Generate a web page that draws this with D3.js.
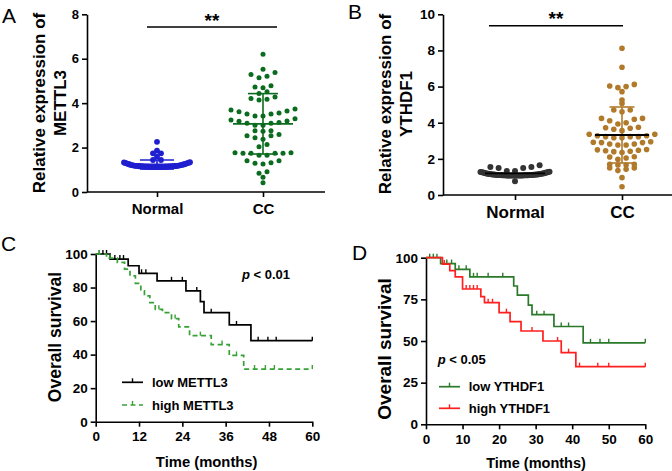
<!DOCTYPE html>
<html><head><meta charset="utf-8">
<script src="https://cdn.jsdelivr.net/npm/d3@7"></script>
<style>
body{margin:0;background:#fff}
svg{display:block}
text{font-family:"Liberation Sans",Arial,sans-serif;font-weight:bold;fill:#000}
</style></head><body>
<svg id="c" width="672" height="471"></svg>
<script>
// ---------------- data ----------------
const categories = ["Normal", "CC"];

const A_normal = [2.26, 1.86, 1.74, 1.74, 1.59, 1.44, 1.44,
  1.13,1.13,1.13,1.13,1.13,1.13,1.13,1.13,1.13,1.13,1.13,1.13,1.13,
  1.14,1.14,1.14,1.14,1.14,1.14,1.14, 1.15,1.15,1.15,1.15,1.15, 1.16,1.16,1.16, 1.17,1.17,1.17,
  1.18,1.18,1.18, 1.19,1.19, 1.20,1.20, 1.21,1.21, 1.23,1.23, 1.24,1.25, 1.26,1.27, 1.28,1.29,
  1.30,1.31, 1.32,1.33, 1.34];
const A_cc = [6.20, 5.53, 5.38, 5.29, 5.21, 5.14, 4.78, 4.73, 4.69, 4.51, 4.43, 4.28, 4.21, 4.18, 4.14,
  3.74, 3.69, 3.65, 3.61, 3.56, 3.51, 3.51, 3.42, 3.42, 3.30, 3.24, 3.20, 3.19, 3.13, 3.09, 3.09, 3.01, 3.01,
  2.76, 2.76, 2.74, 2.59, 2.53, 2.53, 2.44, 2.37, 2.14, 2.04, 1.77, 1.77, 1.75, 1.74, 1.74, 1.74, 1.66, 1.66,
  1.41, 1.41, 1.32, 1.29, 1.26, 0.91, 0.84, 0.66, 0.42];
const A_mean = [1.24, 3.07];
const A_sd = [0.20, 1.36];
const A_ticks = [0, 2, 4, 6, 8];

const B_normal = [1.64, 1.55, 1.55, 1.49, 1.49, 1.33, 1.33, 0.76,
  1.08,1.08,1.08,1.08,1.08,1.08,1.08,1.08,1.08,1.08,1.08,1.08,1.08,
  1.09,1.09,1.09,1.09,1.09,1.09,1.09, 1.10,1.10,1.10,1.10, 1.11,1.11,1.11, 1.12,1.12,1.12,
  1.13,1.13, 1.14,1.14, 1.15,1.15, 1.16,1.16, 1.17,1.17, 1.18, 1.19, 1.20, 1.21, 1.22, 1.23,
  1.24, 1.25, 1.26, 1.27, 1.27, 1.28];
const B_cc = [8.12, 7.07, 6.12, 6.00, 5.72, 5.94, 6.03, 5.26, 5.07, 4.70, 4.61, 4.70, 4.24, 4.19, 4.11, 4.24,
  4.00, 3.93, 3.75, 3.64, 3.69, 3.56, 3.72, 3.36, 3.28, 3.23, 3.17, 3.23, 3.17, 3.23, 3.28, 3.36,
  2.90, 2.82, 2.77, 2.95, 2.92, 2.77, 2.82, 2.90, 2.52, 2.48, 2.40, 2.45, 2.50, 2.42, 2.35,
  2.12, 2.05, 1.97, 2.10, 1.66, 1.70, 1.70, 1.66, 1.50, 1.42, 1.50, 1.35, 0.96, 0.46];
const B_mean = [1.20, 3.32];
const B_sd = [0.12, 1.55];
const B_ticks = [0, 2, 4, 6, 8, 10];

const C_low_time = [0, 4, 9, 12, 17, 25, 29, 30, 37, 43, 60];
const C_low_surv = [100, 97, 93, 88.5, 84, 78, 71.6, 65, 57.7, 48.3, 48.3];
const C_low_cens = [1, 2, 3, 5.3, 6.7, 7.7, 12.7, 13.9, 21, 24, 28, 32, 39, 45, 47.7, 50, 60];
const C_high_time = [0, 3, 6, 8, 9.5, 11, 12.5, 13.5, 15, 16.5, 18.5, 21, 23, 26, 32, 37, 41, 60];
const C_high_surv = [100, 97.5, 95, 91, 87, 82.5, 78, 75, 71, 67, 65, 61.5, 56.5, 51.3, 46, 39.5, 31.4, 31.4];
const C_high_cens = [1, 4, 17.5, 22, 29, 35, 39, 44, 47, 49.5, 60];
const C_xticks = [0, 12, 24, 36, 48, 60];
const C_yticks = [0, 20, 40, 60, 80, 100];

const D_low_time = [0, 4, 8, 12, 24, 25, 28, 29, 35, 43, 60];
const D_low_surv = [100, 96.5, 93, 88.5, 83, 77.5, 71.5, 65.8, 58.7, 48.9, 48.9];
const D_low_cens = [1, 2, 3, 5.7, 7, 9, 11, 13, 14, 17, 21, 30.3, 32.3, 37, 39, 45, 47.6, 50, 60];
const D_high_time = [0, 4.5, 6.5, 8, 10, 15, 16, 20, 23, 26, 32, 37, 41, 60];
const D_high_surv = [100, 96.2, 92.2, 88.5, 81.2, 76.6, 73, 67, 61.6, 56, 50, 43, 34.6, 34.6];
const D_high_cens = [5, 11, 12, 13, 14, 17, 18.2, 22, 29, 36, 39, 42, 47, 50, 60];
const D_xticks = [0, 10, 20, 30, 40, 50, 60];
const D_yticks = [0, 25, 50, 75, 100];

// ---------------- helpers ----------------
const svg = d3.select("#c");
svg.append("rect").attr("width", 672).attr("height", 471).attr("fill", "#fff");

function swarm(values, y, opt) {
  const idx = values.map((v, i) => i).sort((a, b) => values[b] - values[a]);
  const rows = []; let cur = null, lastPy = null;
  idx.forEach(i => {
    const py = y(values[i]);
    if (!cur || py - lastPy > opt.gap || py - cur.start > opt.span) { cur = {items: [], start: py}; rows.push(cur); }
    cur.items.push(i); lastPy = py;
  });
  const off = new Array(values.length);
  rows.forEach(r => {
    const items = r.items.slice().sort((a, b) => values[a] - values[b]);
    const n = items.length;
    const step = n > 1 ? Math.min(opt.step, opt.maxW / (n - 1)) : 0;
    items.forEach((i, k) => {
      let slot;
      if (n % 2 === 1) slot = k === 0 ? 0 : (k % 2 === 1 ? -Math.ceil(k / 2) : Math.ceil(k / 2));
      else { const m = Math.floor(k / 2) + 0.5; slot = k % 2 === 0 ? -m : m; }
      off[i] = slot * step;
    });
  });
  return off;
}

function styleAxis(g, fs) {
  g.selectAll("path,line").attr("stroke", "#000").attr("stroke-width", 1.6);
  g.selectAll("text").style("font-size", fs + "px").style("font-weight", "bold")
    .style("font-family", '"Liberation Sans",Arial,sans-serif').attr("fill", "#000");
}

function scatterPanel(cfg) {
  const g = svg.append("g");
  const y = d3.scaleLinear().domain(cfg.ydom).range(cfg.yrange);
  const x = d3.scalePoint().domain(categories).range(cfg.xpos);
  const ya = g.append("g").attr("transform", `translate(${cfg.x0},0)`)
    .call(d3.axisLeft(y).tickValues(cfg.ticks).tickSize(5).tickSizeOuter(0).tickPadding(3));
  styleAxis(ya, cfg.tickFs);
  const xa = g.append("g").attr("transform", `translate(0,${cfg.yrange[0]})`)
    .call(d3.axisBottom(x).tickSize(5).tickPadding(6));
  xa.select(".domain").remove();
  styleAxis(xa, cfg.catFs);
  g.append("line").attr("x1", cfg.x0).attr("x2", cfg.xend).attr("y1", cfg.yrange[0]).attr("y2", cfg.yrange[0])
    .attr("stroke", "#000").attr("stroke-width", 1.6);
  [cfg.normal, cfg.cc].forEach((vals, ci) => {
    const off = swarm(vals, y, cfg.layout[ci]);
    const cx = x(categories[ci]);
    g.append("g").selectAll("circle").data(vals).join("circle")
      .attr("cx", (d, i) => cx + off[i]).attr("cy", d => y(d)).attr("r", cfg.r[ci])
      .attr("fill", cfg.colors[ci]);
    const m = cfg.mean[ci], s = cfg.sd[ci];
    const eb = g.append("g").attr("stroke-width", 1.6);
    eb.append("line").attr("x1", cx).attr("x2", cx).attr("y1", y(m - s)).attr("y2", y(m + s)).attr("stroke", cfg.colors[ci]);
    [m - s, m + s].forEach(v => eb.append("line").attr("x1", cx - cfg.capW[ci]).attr("x2", cx + cfg.capW[ci])
      .attr("y1", y(v)).attr("y2", y(v)).attr("stroke", cfg.colors[ci]));
    eb.append("line").attr("x1", cx - cfg.meanW[ci]).attr("x2", cx + cfg.meanW[ci])
      .attr("y1", y(m)).attr("y2", y(m)).attr("stroke", cfg.meanColor[ci]).attr("stroke-width", 1.8);
  });
  g.append("line").attr("x1", cfg.sig[0]).attr("x2", cfg.sig[1]).attr("y1", cfg.sig[2]).attr("y2", cfg.sig[2])
    .attr("stroke", "#000").attr("stroke-width", 1.6);
  g.append("text").attr("x", (cfg.sig[0] + cfg.sig[1]) / 2).attr("y", cfg.sig[3]).attr("text-anchor", "middle")
    .style("font-size", "19px").text("**");
  const t = g.append("text").attr("transform", `translate(${cfg.titleX},${cfg.titleY}) rotate(-90)`)
    .attr("text-anchor", "middle").style("font-size", cfg.titleFs + "px");
  t.append("tspan").attr("x", 0).attr("dy", 0).text("Relative expression of");
  t.append("tspan").attr("x", 0).attr("dy", cfg.titleLH).text(cfg.gene);
  g.append("text").attr("x", cfg.letter[0]).attr("y", cfg.letter[1]).style("font-weight", "normal")
    .style("font-size", "21px").text(cfg.letter[2]);
}

scatterPanel({
  ydom: [0, 8], yrange: [192, 14.3], xpos: [157, 263], x0: 87, xend: 325, ticks: A_ticks,
  tickFs: 13, catFs: 15, normal: A_normal, cc: A_cc, mean: A_mean, sd: A_sd, r: [2.9, 2.5],
  colors: ["#1f1fd0", "#0b6b1e"], meanColor: ["#1f1fd0", "#0b6b1e"], capW: [17, 15], meanW: [30, 30],
  layout: [{gap: 2.0, span: 8, step: 8, maxW: 66}, {gap: 2.5, span: 8, step: 8, maxW: 70}],
  sig: [147, 277, 27, 27], titleX: 45, titleY: 103, titleFs: 17, titleLH: 21, gene: "METTL3", letter: [2, 23, "A"]
});
scatterPanel({
  ydom: [0, 10], yrange: [195, 14.3], xpos: [515, 622], x0: 443, xend: 672, ticks: B_ticks,
  tickFs: 13.5, catFs: 17, normal: B_normal, cc: B_cc, mean: B_mean, sd: B_sd, r: [3.0, 2.8],
  colors: ["#333333", "#b07a2a"], meanColor: ["#000000", "#000000"], capW: [0, 12.5], meanW: [30, 27],
  layout: [{gap: 3.5, span: 6.2, step: 8.2, maxW: 69}, {gap: 2.5, span: 8, step: 8.2, maxW: 72}],
  sig: [489, 623, 25.7, 25], titleX: 391, titleY: 104, titleFs: 17, titleLH: 21, gene: "YTHDF1", letter: [348, 19, "B"]
});

function kmPanel(cfg) {
  const g = svg.append("g");
  const x = d3.scaleLinear().domain([0, 60]).range(cfg.xr);
  const y = d3.scaleLinear().domain([0, 100]).range(cfg.yr);
  const ya = g.append("g").attr("transform", `translate(${cfg.xr[0]},0)`)
    .call(d3.axisLeft(y).tickValues(cfg.yticks).tickSize(5).tickSizeOuter(0).tickPadding(3));
  styleAxis(ya, cfg.tickFs);
  const xa = g.append("g").attr("transform", `translate(0,${cfg.yr[0]})`)
    .call(d3.axisBottom(x).tickValues(cfg.xticks).tickSize(5).tickSizeOuter(0).tickPadding(5));
  styleAxis(xa, cfg.tickFs);
  const line = d3.line().x(d => x(d[0])).y(d => y(d[1])).curve(d3.curveStepAfter);
  cfg.series.forEach(s => {
    const pts = s.time.map((t, i) => [t, s.surv[i]]);
    g.append("path").attr("d", line(pts)).attr("fill", "none").attr("stroke", s.color)
      .attr("stroke-width", 1.7).attr("stroke-dasharray", s.dash || null);
    const survAt = t => { let v = s.surv[0]; s.time.forEach((tt, i) => { if (tt <= t) v = s.surv[i]; }); return v; };
    g.append("g").selectAll("line").data(s.cens).join("line")
      .attr("x1", d => x(d)).attr("x2", d => x(d)).attr("y1", d => y(survAt(d))).attr("y2", d => y(survAt(d)) - 4)
      .attr("stroke", s.color).attr("stroke-width", 1.4);
  });
  cfg.series.forEach((s, i) => {
    const ly = cfg.leg[1] + i * cfg.leg[3];
    g.append("line").attr("x1", cfg.leg[0]).attr("x2", cfg.leg[0] + 21).attr("y1", ly).attr("y2", ly)
      .attr("stroke", s.color).attr("stroke-width", 1.7).attr("stroke-dasharray", s.dash || null);
    g.append("line").attr("x1", cfg.leg[0] + 10.5).attr("x2", cfg.leg[0] + 10.5).attr("y1", ly).attr("y2", ly - 4)
      .attr("stroke", s.color).attr("stroke-width", 1.4);
    g.append("text").attr("x", cfg.leg[2]).attr("y", ly + 4.5).style("font-size", "13px").text(s.name);
  });
  const p = g.append("text").attr("x", cfg.p[0]).attr("y", cfg.p[1]).style("font-size", "13px");
  p.append("tspan").style("font-style", "italic").text("p");
  p.append("tspan").text(" < " + cfg.p[2]);
  g.append("text").attr("transform", `translate(${cfg.ytitle[0]},${cfg.ytitle[1]}) rotate(-90)`)
    .attr("text-anchor", "middle").style("font-size", cfg.ytitle[2] + "px").text("Overall survival");
  g.append("text").attr("x", cfg.xtitle[0]).attr("y", cfg.xtitle[1]).attr("text-anchor", "middle")
    .style("font-size", cfg.xtitle[2] + "px").text("Time (months)");
  g.append("text").attr("x", cfg.letter[0]).attr("y", cfg.letter[1]).style("font-weight", "normal")
    .style("font-size", "21px").text(cfg.letter[2]);
}

kmPanel({
  xr: [95.7, 312.3], yr: [421.7, 254], xticks: C_xticks, yticks: C_yticks, tickFs: 13.5,
  series: [
    {name: "low METTL3", time: C_low_time, surv: C_low_surv, cens: C_low_cens, color: "#000000"},
    {name: "high METTL3", time: C_high_time, surv: C_high_surv, cens: C_high_cens, color: "#36a136", dash: "5,3.5"}
  ],
  leg: [122, 382.3, 152, 22.7], p: [242, 279, "0.01"], ytitle: [61, 337, 17.5], xtitle: [206.7, 466.5, 14.8],
  letter: [1, 251, "C"]
});
kmPanel({
  xr: [426, 645.3], yr: [424.3, 257.7], xticks: D_xticks, yticks: D_yticks, tickFs: 13.5,
  series: [
    {name: "low YTHDF1", time: D_low_time, surv: D_low_surv, cens: D_low_cens, color: "#2a7a2a"},
    {name: "high YTHDF1", time: D_high_time, surv: D_high_surv, cens: D_high_cens, color: "#ff1f1f"}
  ],
  leg: [439, 386.7, 468.7, 21.6], p: [437.7, 364, "0.05"], ytitle: [391, 349, 19], xtitle: [536, 467.5, 14.5],
  letter: [352, 260, "D"]
});
</script>
</body></html>
